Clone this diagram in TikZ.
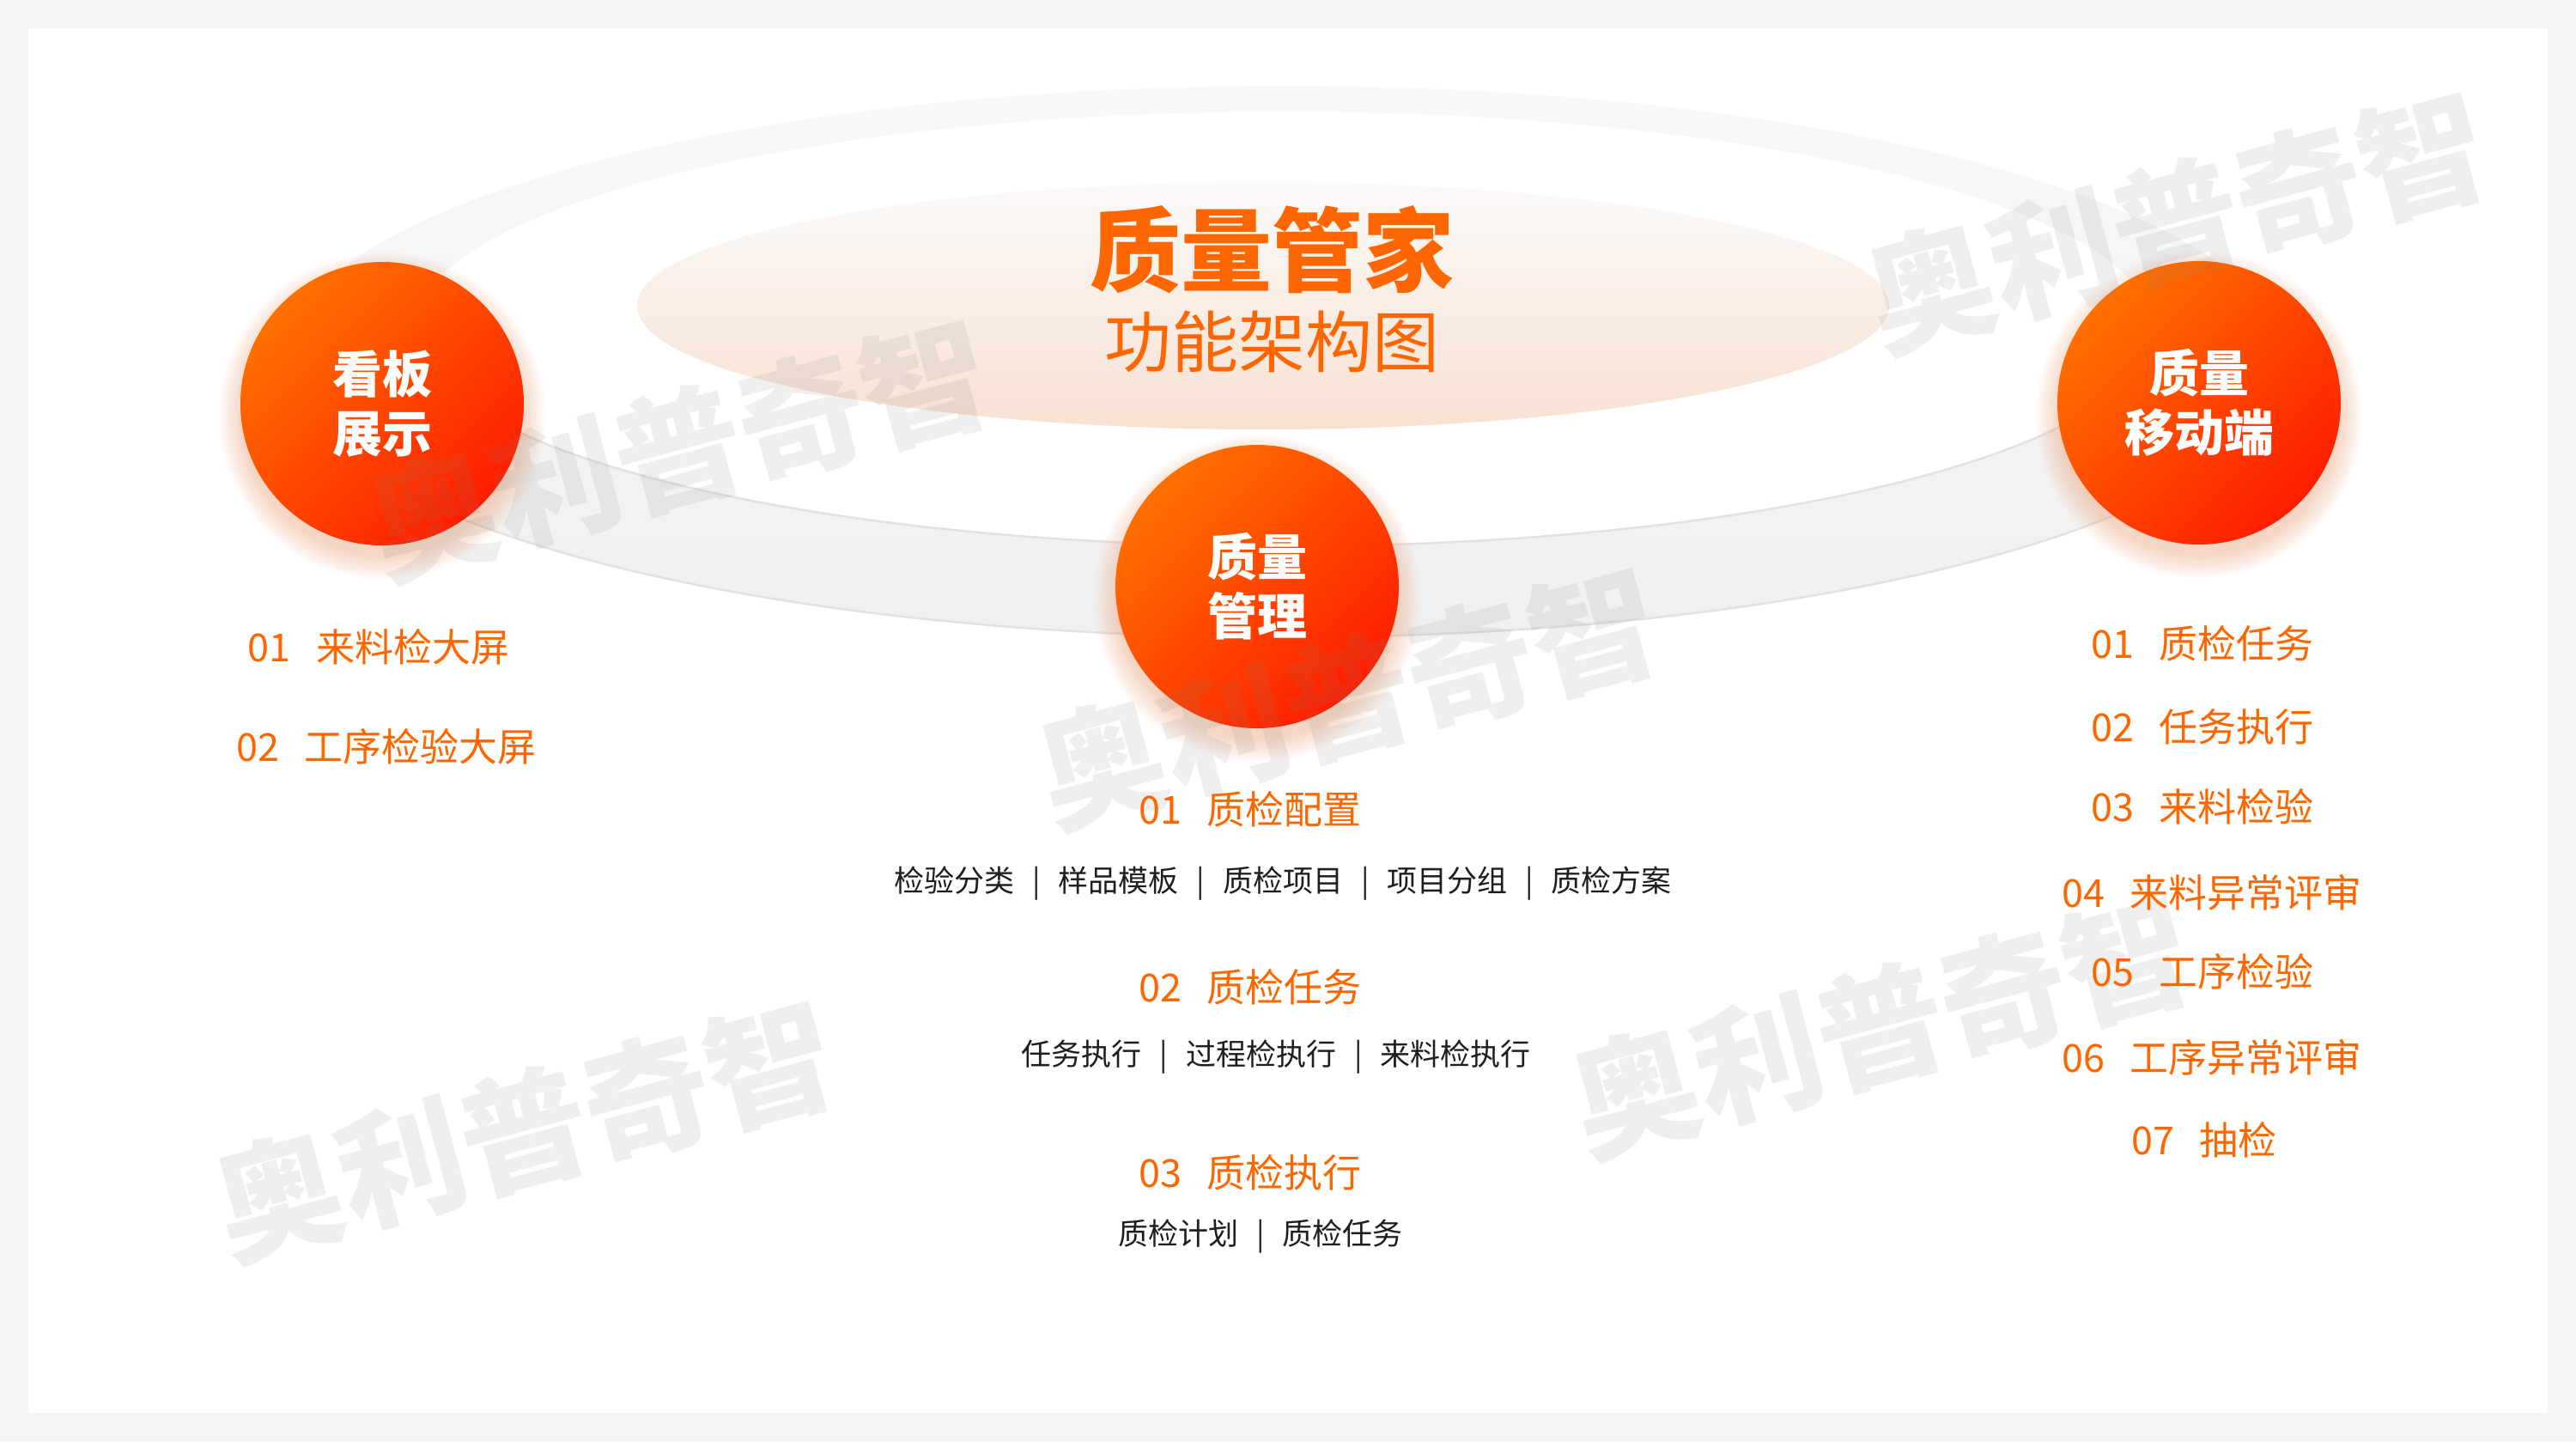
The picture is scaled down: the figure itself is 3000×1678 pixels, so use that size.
\documentclass[tikz,border=0pt]{standalone}
\usepackage{fontspec}
\setmainfont{Noto Sans CJK SC}
\newfontfamily\cjk{Noto Sans CJK SC}
\definecolor{bgout}{RGB}{244,244,244}
\definecolor{brand}{RGB}{255,102,0}
\definecolor{ringtop}{RGB}{248,248,248}
\definecolor{ringbot}{RGB}{240,240,240}
\definecolor{ringedge}{RGB}{226,226,226}
\definecolor{peachtop}{RGB}{251,250,249}
\definecolor{peachbot}{RGB}{248,225,210}
\definecolor{ballA}{RGB}{255,112,0}
\definecolor{ballB}{RGB}{255,30,0}
\definecolor{glowc}{RGB}{240,150,100}
\definecolor{wmark}{RGB}{128,128,128}
\definecolor{darktext}{RGB}{30,30,30}
\newcommand\numgap{\hspace{0.65em}}
\newcommand\sepb{\hspace{0.6em}|\hspace{0.6em}}
\begin{document}
\begin{tikzpicture}[x=1pt,y=-1pt,
  ball/.style={circle, minimum size=330pt, inner sep=0pt, top color=ballA, bottom color=ballB, shading angle=45,
    align=center, text=white, font=\cjk\bfseries\fontsize{58}{69}\selectfont},
  head/.style={font=\cjk\fontsize{45}{50}\selectfont, text=brand, anchor=base, inner sep=0pt},
  subline/.style={font=\cjk\fontsize{35}{40}\selectfont, text=darktext, anchor=base, inner sep=0pt},
  wm/.style={font=\cjk\bfseries\fontsize{148}{150}\selectfont, text=wmark, text opacity=0.12, rotate=15, inner sep=0pt},
]
% background
\fill[bgout] (0,0) rectangle (3000,1678);
\fill[white] (33,33) rectangle (2967,1645);
\useasboundingbox (0,0) rectangle (3000,1678);

% ring
\shade[top color=ringtop, bottom color=ringbot, even odd rule]
  (1495,421) ellipse [x radius=1165pt, y radius=321pt]
  (1495,383) ellipse [x radius=1012pt, y radius=253pt];
\begin{scope}
  \clip (0,470) rectangle (3000,1678);
  \draw[ringedge, line width=2.5pt] (1495,421) ellipse [x radius=1165pt, y radius=321pt];
\end{scope}
\begin{scope}
  \clip (0,430) rectangle (3000,1678);
  \draw[ringedge, line width=2.5pt] (1495,383) ellipse [x radius=1012pt, y radius=253pt];
\end{scope}

% peach ellipse
\shade[top color=peachtop, bottom color=peachbot] (1471,356) ellipse [x radius=729pt, y radius=144pt];

% title
\node[font=\cjk\bfseries\fontsize{106}{110}\selectfont, text=brand, anchor=base, inner sep=0pt] (t1) at (1481,331) {质量管家};
\node[font=\cjk\fontsize{78}{80}\selectfont, text=brand, anchor=base, inner sep=0pt] (t2) at (1481,427) {功能架构图};

% glows
\foreach \cx/\cy in {445/470, 1464/683, 2561/469}{
  \foreach \k [evaluate=\k as \r using 163+3*\k] in {0,...,9}{
    \fill[glowc, opacity=0.045] (\cx,\cy+14) circle [radius=\r pt];
  }
}

% balls
\node[ball] (b1) at (445,470) {看板\\展示};
\node[ball] (b2) at (1464,683) {质量\\管理};
\node[ball] (b3) at (2561,469) {质量\\移动端};

% watermarks
\node[wm] (w1) at (790,523) {奥利普奇智};
\node[wm] (w2) at (1569,812) {奥利普奇智};
\node[wm] (w3) at (2534,258) {奥利普奇智};
\node[wm] (w4) at (610,1316) {奥利普奇智};
\node[wm] (w5) at (2190,1195) {奥利普奇智};

% left list
\node[head] (l1) at (441,770) {01\numgap 来料检大屏};
\node[head] (l2) at (450,886) {02\numgap 工序检验大屏};

% right list
\node[head] (r1) at (2565,766) {01\numgap 质检任务};
\node[head] (r2) at (2565,863) {02\numgap 任务执行};
\node[head] (r3) at (2565,956) {03\numgap 来料检验};
\node[head] (r4) at (2576,1056) {04\numgap 来料异常评审};
\node[head] (r5) at (2565,1148) {05\numgap 工序检验};
\node[head] (r6) at (2576,1248) {06\numgap 工序异常评审};
\node[head] (r7) at (2567,1344) {07\numgap 抽检};

% center list
\node[head] (c1) at (1456,959) {01\numgap 质检配置};
\node[subline] (s1) at (1494,1038) {检验分类\sepb 样品模板\sepb 质检项目\sepb 项目分组\sepb 质检方案};
\node[head] (c2) at (1456,1166) {02\numgap 质检任务};
\node[subline] (s2) at (1486,1240) {任务执行\sepb 过程检执行\sepb 来料检执行};
\node[head] (c3) at (1456,1382) {03\numgap 质检执行};
\node[subline] (s3) at (1468,1449) {质检计划\sepb 质检任务};
\end{tikzpicture}
\end{document}
